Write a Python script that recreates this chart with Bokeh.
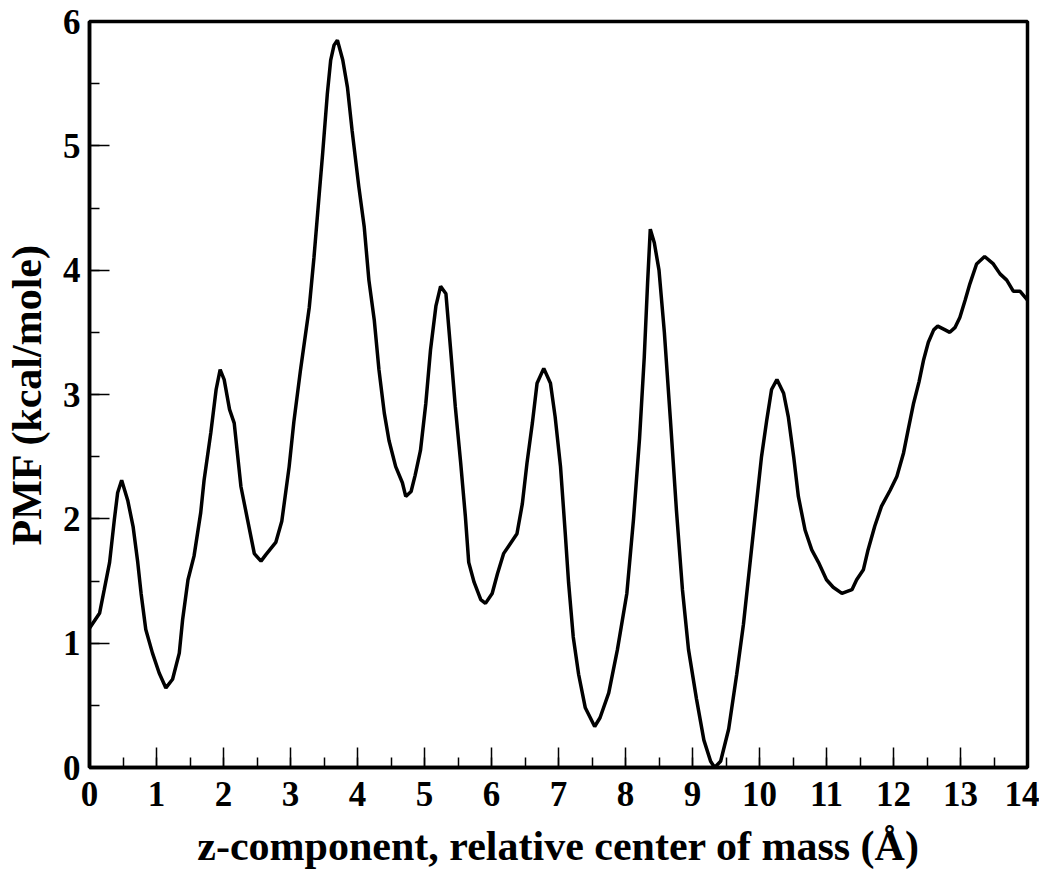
from bokeh.plotting import figure
from bokeh.models import Range1d, SingleIntervalTicker
from bokeh.embed import file_html
from bokeh.resources import INLINE

z_values = [0.00, 0.15, 0.22, 0.30, 0.37, 0.42, 0.48, 0.57, 0.65, 0.72, 0.77, 0.84, 0.94, 1.04, 1.14,
            1.24, 1.34, 1.39, 1.47, 1.56, 1.66, 1.71, 1.81, 1.89, 1.95, 2.01, 2.09, 2.16, 2.26, 2.36,
            2.46, 2.56, 2.63, 2.78, 2.87, 2.98, 3.05, 3.15, 3.28, 3.35, 3.43, 3.48, 3.55, 3.60, 3.65,
            3.70, 3.78, 3.85, 3.92, 4.02, 4.10, 4.17, 4.25, 4.32, 4.40, 4.47, 4.57, 4.67, 4.72, 4.80,
            4.86, 4.94, 5.02, 5.09, 5.17, 5.24, 5.32, 5.39, 5.46, 5.54, 5.61, 5.66, 5.74, 5.84, 5.91,
            6.01, 6.09, 6.18, 6.28, 6.38, 6.46, 6.53, 6.61, 6.68, 6.78, 6.88, 6.95, 7.03, 7.10, 7.15,
            7.22, 7.30, 7.40, 7.54, 7.62, 7.75, 7.88, 8.02, 8.12, 8.21, 8.28, 8.33, 8.37, 8.43, 8.50,
            8.58, 8.67, 8.76, 8.85, 8.94, 9.06, 9.17, 9.27, 9.33, 9.42, 9.54, 9.66, 9.76, 9.86, 9.96,
            10.03, 10.11, 10.18, 10.26, 10.36, 10.43, 10.51, 10.58, 10.68, 10.78, 10.88, 11.00, 11.10,
            11.23, 11.38, 11.45, 11.55, 11.62, 11.72, 11.82, 11.95, 12.05, 12.15, 12.22, 12.30, 12.38,
            12.45, 12.52, 12.60, 12.66, 12.77, 12.84, 12.92, 12.99, 13.07, 13.14, 13.24, 13.36, 13.49,
            13.59, 13.69, 13.79, 13.89, 14.00]

pmf_values = [1.12, 1.24, 1.43, 1.65, 1.99, 2.21, 2.31, 2.15, 1.94, 1.65, 1.40, 1.11, 0.92, 0.76, 0.64,
              0.71, 0.92, 1.19, 1.51, 1.70, 2.05, 2.31, 2.69, 3.04, 3.20, 3.12, 2.88, 2.77, 2.26, 1.99,
              1.72, 1.66, 1.71, 1.81, 1.98, 2.42, 2.78, 3.20, 3.70, 4.10, 4.62, 4.94, 5.42, 5.69, 5.81,
              5.85, 5.69, 5.47, 5.12, 4.67, 4.35, 3.92, 3.60, 3.20, 2.85, 2.63, 2.42, 2.29, 2.18, 2.22,
              2.35, 2.55, 2.93, 3.36, 3.71, 3.87, 3.81, 3.36, 2.90, 2.45, 2.02, 1.65, 1.49, 1.35, 1.32,
              1.40, 1.56, 1.72, 1.80, 1.88, 2.12, 2.45, 2.77, 3.09, 3.21, 3.09, 2.82, 2.42, 1.89, 1.49,
              1.05, 0.75, 0.48, 0.33, 0.40, 0.60, 0.95, 1.40, 2.00, 2.65, 3.30, 3.90, 4.33, 4.22, 4.00,
              3.50, 2.80, 2.07, 1.43, 0.95, 0.55, 0.22, 0.05, 0.00, 0.05, 0.31, 0.75, 1.15, 1.65, 2.15,
              2.50, 2.80, 3.04, 3.12, 3.01, 2.82, 2.50, 2.18, 1.91, 1.75, 1.65, 1.51, 1.45,
              1.40, 1.43, 1.51, 1.59, 1.75, 1.94, 2.10, 2.23, 2.34, 2.53, 2.72, 2.93, 3.10,
              3.28, 3.42, 3.52, 3.55, 3.52, 3.50, 3.54, 3.62, 3.76, 3.89, 4.05, 4.11, 4.05,
              3.97, 3.92, 3.83, 3.83, 3.76]

x_label = "z-component, relative center of mass (\u00c5)"
y_label = "PMF (kcal/mole)"
FONT = "Liberation Serif"

p = figure(frame_width=938, frame_height=746, output_backend="svg", toolbar_location=None,
           x_range=Range1d(0, 14), y_range=Range1d(0, 6),
           min_border_left=84, min_border_right=12, min_border_top=21, min_border_bottom=96)
p.background_fill_color = "white"
p.border_fill_color = "white"
p.grid.visible = False
p.outline_line_color = "black"
p.outline_line_width = 3.5
p.outline_line_alpha = 1.0

p.line(z_values, pmf_values, line_color="black", line_width=3.5)

p.xaxis.ticker = SingleIntervalTicker(interval=1, num_minor_ticks=2)
p.yaxis.ticker = SingleIntervalTicker(interval=1, num_minor_ticks=2)

for ax in (p.xaxis[0], p.yaxis[0]):
    ax.axis_line_width = 3.5
    ax.axis_line_color = "black"
    ax.major_tick_in = 20
    ax.major_tick_out = 0
    ax.minor_tick_in = 10
    ax.minor_tick_out = 0
    ax.major_tick_line_width = 1.5
    ax.minor_tick_line_width = 1.5
    ax.major_tick_line_color = "black"
    ax.minor_tick_line_color = "black"
    ax.major_label_text_font = FONT
    ax.major_label_text_font_style = "bold"
    ax.major_label_text_font_size = "35px"
    ax.major_label_text_color = "black"
    ax.axis_label_text_font = FONT
    ax.axis_label_text_font_style = "bold"
    ax.axis_label_text_font_size = "42px"
    ax.axis_label_text_color = "black"

p.xaxis.axis_label = x_label
p.yaxis.axis_label = y_label
p.xaxis.major_label_standoff = 14
p.yaxis.major_label_standoff = 9
p.xaxis.axis_label_standoff = 14
p.yaxis.axis_label_standoff = 10

open("out.html", "w").write(file_html(p, INLINE))
